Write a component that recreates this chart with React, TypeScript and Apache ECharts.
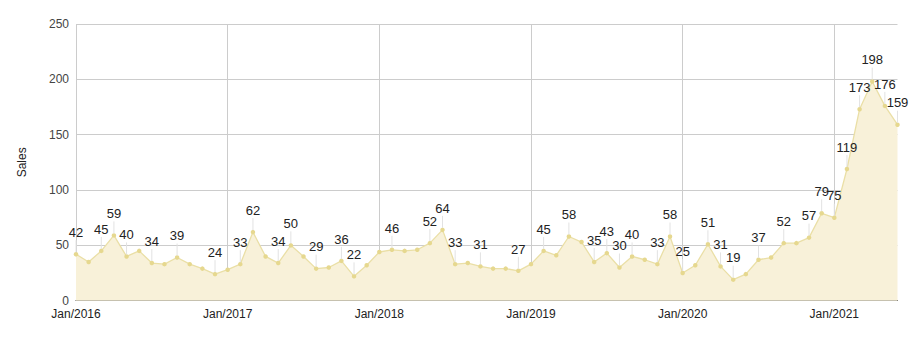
import React, { useEffect, useRef } from "react";
import * as echarts from "echarts";

const monthNames = ["Jan", "Feb", "Mar", "Apr", "May", "Jun", "Jul", "Aug", "Sep", "Oct", "Nov", "Dec"];
const years = [2016, 2017, 2018, 2019, 2020, 2021];
const categories = years.flatMap((y) => monthNames.map((m) => `${m}/${y}`)).slice(0, 66);

const sales2016 = [42, 35, 45, 59, 40, 45, 34, 33, 39, 33, 29, 24];
const sales2017 = [28, 33, 62, 40, 34, 50, 40, 29, 30, 36, 22, 32];
const sales2018 = [44, 46, 45, 46, 52, 64, 33, 34, 31, 29, 29, 27];
const sales2019 = [33, 45, 41, 58, 53, 35, 43, 30, 40, 37, 33, 58];
const sales2020 = [25, 32, 51, 31, 19, 24, 37, 39, 52, 52, 57, 79];
const sales2021 = [75, 119, 173, 198, 176, 159];
const sales = [...sales2016, ...sales2017, ...sales2018, ...sales2019, ...sales2020, ...sales2021];

const labeledMonths = [
  "Jan/2016", "Mar/2016", "Apr/2016", "May/2016", "Jul/2016", "Sep/2016", "Dec/2016",
  "Feb/2017", "Mar/2017", "May/2017", "Jun/2017", "Aug/2017", "Oct/2017", "Nov/2017",
  "Feb/2018", "May/2018", "Jun/2018", "Jul/2018", "Sep/2018", "Dec/2018",
  "Feb/2019", "Apr/2019", "Jun/2019", "Jul/2019", "Aug/2019", "Sep/2019", "Nov/2019", "Dec/2019",
  "Jan/2020", "Mar/2020", "Apr/2020", "May/2020", "Jul/2020", "Sep/2020", "Nov/2020", "Dec/2020",
  "Jan/2021", "Feb/2021", "Mar/2021", "Apr/2021", "May/2021", "Jun/2021",
];

const yTicks = { min: 0, max: 250, interval: 50 };
const FONT = "'Liberation Sans', Arial, sans-serif";

export default function App() {
  const ref = useRef<HTMLDivElement>(null);
  useEffect(() => {
    if (!ref.current) return;
    const chart = echarts.init(ref.current, null, { renderer: "svg" });
    const labeledSet = new Set(labeledMonths);
    const lineData = sales.map((v, i) => ({
      value: v,
      label: { show: labeledSet.has(categories[i]) },
    }));
    const stemData = sales
      .map((v, i) => [i, v] as [number, number])
      .filter(([i]) => labeledSet.has(categories[i]));

    chart.setOption({
      animation: false,
      backgroundColor: "#ffffff",
      textStyle: { fontFamily: FONT },
      grid: { left: 76, right: 16.5, top: 24, bottom: 37.3, containLabel: false },
      xAxis: {
        type: "category",
        data: categories,
        boundaryGap: false,
        axisLine: { show: true, lineStyle: { color: "#333333", width: 1 } },
        axisTick: { show: false },
        axisLabel: {
          interval: (_i: number, v: string) => v.startsWith("Jan"),
          color: "#222222",
          fontSize: 12,
          fontFamily: FONT,
          margin: 7,
        },
        splitLine: {
          show: true,
          interval: (_i: number, v: string) => v.startsWith("Jan"),
          lineStyle: { color: "#cccccc", width: 1 },
        },
      },
      yAxis: {
        type: "value",
        min: yTicks.min,
        max: yTicks.max,
        interval: yTicks.interval,
        name: "Sales",
        nameLocation: "middle",
        nameGap: 48,
        nameTextStyle: { color: "#222222", fontSize: 12, fontFamily: FONT },
        axisLine: { show: false },
        axisTick: { show: false },
        axisLabel: { color: "#444444", fontSize: 12, fontFamily: FONT, margin: 7 },
        splitLine: { show: true, lineStyle: { color: "#cccccc", width: 1 } },
      },
      series: [
        {
          type: "custom",
          z: 3,
          silent: true,
          data: stemData,
          renderItem: (_params: any, api: any) => {
            const p = api.coord([api.value(0), api.value(1)]);
            return {
              type: "line",
              shape: { x1: p[0], y1: p[1] - 2, x2: p[0], y2: p[1] - 14 },
              style: { stroke: "#e2e2e2", lineWidth: 1 },
            };
          },
        },
        {
          type: "line",
          z: 2,
          data: lineData,
          symbol: "circle",
          symbolSize: 4.5,
          itemStyle: { color: "#e6d88f" },
          lineStyle: { color: "#eadfa6", width: 1.3 },
          areaStyle: { color: "#f8f1d9", opacity: 1 },
          label: {
            position: "top",
            distance: 13,
            color: "#222222",
            fontSize: 13,
            fontFamily: FONT,
          },
          labelLayout: { hideOverlap: false },
        },
      ],
    });
    return () => chart.dispose();
  }, []);
  return (
    <div
      ref={ref}
      style={{ position: "fixed", left: 0, top: 0, width: 914, height: 338, background: "#fff" }}
    />
  );
}
